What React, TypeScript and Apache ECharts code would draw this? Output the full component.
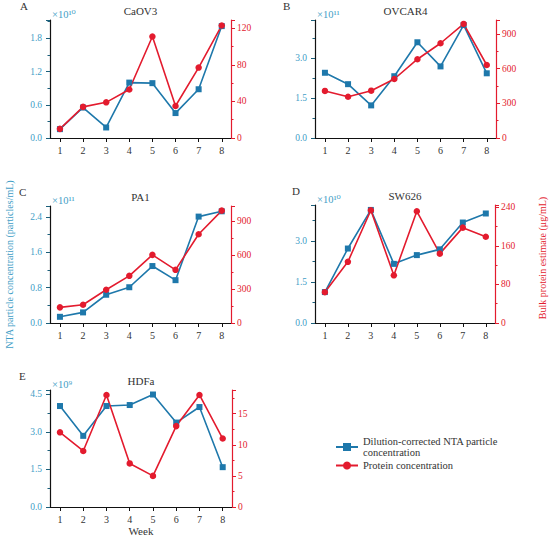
import React, { useEffect, useRef } from 'react';
import * as echarts from 'echarts';

const weeks = [1, 2, 3, 4, 5, 6, 7, 8];
const panelLetters = ['A', 'B', 'C', 'D', 'E'];
const panelTitles = ['CaOV3', 'OVCAR4', 'PA1', 'SW626', 'HDFa'];
const exponents = ['×10¹⁰', '×10¹¹', '×10¹¹', '×10¹⁰', '×10⁹'];

const ntaCaOV3 = [0.16, 0.55, 0.19, 1.0, 0.99, 0.45, 0.88, 2.02];
const ntaOVCAR4 = [2.46, 2.03, 1.23, 2.33, 3.61, 2.7, 4.26, 2.44];
const ntaPA1 = [0.14, 0.24, 0.64, 0.81, 1.29, 0.97, 2.41, 2.53];
const ntaSW626 = [1.13, 2.72, 4.13, 2.16, 2.48, 2.69, 3.67, 4.0];
const ntaHDFa = [4.03, 2.84, 4.03, 4.07, 4.49, 3.37, 3.99, 1.59];

const proteinCaOV3 = [10, 34, 39, 53, 111, 35, 77, 123];
const proteinOVCAR4 = [407, 357, 409, 510, 681, 819, 986, 631];
const proteinPA1 = [138, 161, 293, 416, 601, 469, 783, 991];
const proteinSW626 = [64, 127, 234, 99, 232, 144, 198, 179];
const proteinHDFa = [12, 9, 18, 7, 5, 13, 18, 11];

const leftMax = [2.13, 4.45, 2.65, 4.31, 4.67];
const leftInterval = [0.6, 1.5, 0.8, 1.5, 1.5];
const rightMax = [129, 1020, 1032, 245, 18.8];
const rightInterval = [40, 300, 300, 80, 5];

const ntaSeries = [ntaCaOV3, ntaOVCAR4, ntaPA1, ntaSW626, ntaHDFa];
const proteinSeries = [proteinCaOV3, proteinOVCAR4, proteinPA1, proteinSW626, proteinHDFa];

const NTA_NAME = 'Dilution-corrected NTA particle concentration';
const PROT_NAME = 'Protein concentration';
const LEFT_TITLE = 'NTA particle concentration (particles/mL)';
const RIGHT_TITLE = 'Bulk protein estimate (μg/mL)';

const BLUE = '#1e78ab';
const TEAL = '#3f9ec6';
const RED = '#e31b2e';
const DARK = '#333';
const FONT = '"Liberation Serif", "DejaVu Serif", serif';

const grids = [
  { left: 50, top: 20, width: 181, height: 118 },
  { left: 315, top: 20, width: 181, height: 118 },
  { left: 50, top: 206, width: 181, height: 117 },
  { left: 315, top: 205, width: 180, height: 118 },
  { left: 50, top: 390, width: 182, height: 118 },
];
const letterX = [20, 283, 19, 292, 19];

export default function App() {
  const ref = useRef<HTMLDivElement>(null);
  useEffect(() => {
    if (!ref.current) return;
    const chart = echarts.init(ref.current, undefined, { renderer: 'svg' });

    const xAxis = grids.map((g, i) => ({
      type: 'value',
      gridIndex: i,
      min: 0.57,
      max: 8.4,
      axisLine: { show: true, lineStyle: { color: '#111', width: 1 } },
      axisTick: { show: true, customValues: weeks, length: 4, lineStyle: { color: '#111' } },
      axisLabel: {
        customValues: weeks,
        color: DARK,
        fontFamily: FONT,
        fontSize: 10,
        margin: 7,
      },
      splitLine: { show: false },
      name: i === 4 ? 'Week' : '',
      nameLocation: 'middle',
      nameGap: 18,
      nameTextStyle: { color: DARK, fontFamily: FONT, fontSize: 11, fontWeight: 'normal' },
    }));

    const yAxis: any[] = [];
    grids.forEach((g, i) => {
      yAxis.push({
        type: 'value',
        gridIndex: i,
        position: 'left',
        min: 0,
        max: leftMax[i],
        interval: leftInterval[i],
        axisLine: { show: true, lineStyle: { color: '#111', width: 1.2 } },
        axisTick: { show: true, length: 4, lineStyle: { color: '#1b5f7a' } },
        minorTick: { show: true, splitNumber: 2, length: 2.5, lineStyle: { color: '#1b5f7a' } },
        axisLabel: {
          color: TEAL,
          fontFamily: FONT,
          fontSize: 9.5,
          margin: 8,
          showMaxLabel: false,
          formatter: (v: number) => v.toFixed(1),
        },
        splitLine: { show: false },
        minorSplitLine: { show: false },
        name: i === 2 ? LEFT_TITLE : '',
        nameLocation: 'middle',
        nameGap: 36,
        nameTextStyle: { color: TEAL, fontFamily: FONT, fontSize: 10 },
      });
      yAxis.push({
        type: 'value',
        gridIndex: i,
        position: 'right',
        min: 0,
        max: rightMax[i],
        interval: rightInterval[i],
        axisLine: { show: true, lineStyle: { color: RED, width: 1.2 } },
        axisTick: { show: true, length: 4, lineStyle: { color: RED } },
        minorTick: { show: true, splitNumber: 2, length: 2.5, lineStyle: { color: RED } },
        axisLabel: {
          color: RED,
          fontFamily: FONT,
          fontSize: 9.5,
          margin: 6,
          showMaxLabel: false,
          formatter: (v: number) => String(Math.round(v)),
        },
        splitLine: { show: false },
        minorSplitLine: { show: false },
        name: i === 3 ? RIGHT_TITLE : '',
        nameLocation: 'middle',
        nameGap: 42,
        nameTextStyle: { color: RED, fontFamily: FONT, fontSize: 10, padding: [0, 0, 0, 12] },
      });
    });

    const series: any[] = [];
    grids.forEach((g, i) => {
      series.push({
        type: 'line',
        name: NTA_NAME,
        xAxisIndex: i,
        yAxisIndex: 2 * i,
        data: weeks.map((w, j) => [w, ntaSeries[i][j]]),
        symbol: 'rect',
        symbolSize: 6,
        lineStyle: { color: BLUE, width: 1.6 },
        itemStyle: { color: BLUE },
      });
      series.push({
        type: 'line',
        name: PROT_NAME,
        xAxisIndex: i,
        yAxisIndex: 2 * i + 1,
        data: weeks.map((w, j) => [w, proteinSeries[i][j]]),
        symbol: 'circle',
        symbolSize: 6.5,
        lineStyle: { color: RED, width: 1.6 },
        itemStyle: { color: RED },
      });
    });

    const txt = (text: string, size: number, color: string, align: string) => ({
      text,
      fill: color,
      fontSize: size,
      fontFamily: FONT,
      fontWeight: 'normal',
      align,
      verticalAlign: 'middle',
    });

    const graphic: any[] = [];
    grids.forEach((g, i) => {
      graphic.push({
        type: 'text',
        x: letterX[i],
        y: g.top - 14,
        style: txt(panelLetters[i], 11, DARK, 'left'),
      });
      graphic.push({
        type: 'text',
        x: g.left + g.width / 2,
        y: g.top - 9,
        style: txt(panelTitles[i], 11, DARK, 'center'),
      });
      graphic.push({
        type: 'text',
        x: g.left + 2,
        y: g.top - 6,
        style: txt(exponents[i], 10.5, TEAL, 'left'),
      });
    });

    chart.setOption({
      animation: false,
      grid: grids.map((g) => ({ ...g, containLabel: false })),
      xAxis,
      yAxis,
      series,
      graphic,
      legend: {
        data: [NTA_NAME, PROT_NAME],
        orient: 'vertical',
        left: 330,
        top: 431,
        itemWidth: 22,
        itemHeight: 10,
        itemGap: 2,
        selectedMode: false,
        formatter: (name: string) =>
          name === NTA_NAME ? 'Dilution-corrected NTA particle\nconcentration' : name,
        textStyle: { color: DARK, fontFamily: FONT, fontSize: 10.5, lineHeight: 11 },
      },
    });
    return () => chart.dispose();
  }, []);
  return (
    <div
      ref={ref}
      style={{ position: 'fixed', left: 0, top: 0, width: 550, height: 537, background: '#fff' }}
    />
  );
}
